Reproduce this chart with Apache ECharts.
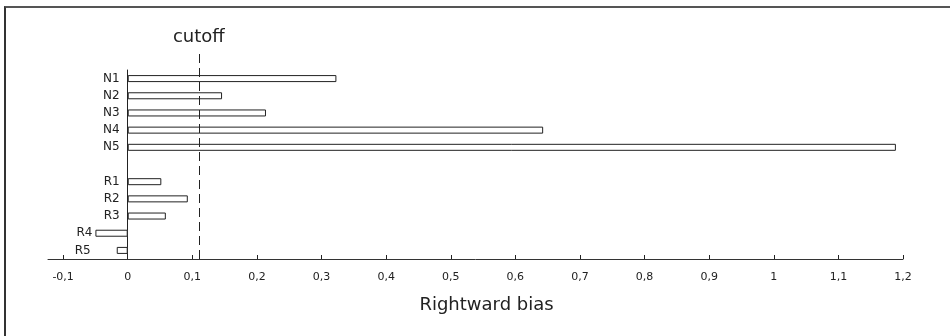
<!DOCTYPE html>
<html>
<head>
<meta charset="utf-8">
<script src="https://cdn.jsdelivr.net/npm/echarts@6/dist/echarts.min.js"></script>
<style>
  html, body { margin: 0; padding: 0; background: #fff; overflow: hidden; width: 950px; height: 336px; }
  #frame { position: absolute; left: 4px; top: 6px; width: 944px; height: 328px;
           border-top: 2px solid #555; border-left: 2px solid #333; }
  #chart { position: absolute; left: 0; top: 0; width: 950px; height: 336px; }
</style>
</head>
<body>
<div id="frame"></div>
<div id="chart"></div>
<script>
// categories top to bottom, '' is the gap between the two groups
var categories = ['N1', 'N2', 'N3', 'N4', 'N5', '', 'R1', 'R2', 'R3', 'R4', 'R5'];
var bias = [0.323, 0.146, 0.214, 0.643, 1.189, '-', 0.052, 0.093, 0.059, -0.05, -0.017];
var tickValues = [-0.1, 0, 0.1, 0.2, 0.3, 0.4, 0.5, 0.6, 0.7, 0.8, 0.9, 1, 1.1, 1.2];
var cutoff = 0.109;

var font = 'DejaVu Sans';
var ink = '#222';

function fmt(v) {
  return String(+(+v).toFixed(1)).replace('.', ',');
}

// label gap from the left end of each bar (the source places R4/R5 by hand)
var labelGap = { R4: 3, R5: 26 };

var barData = bias.map(function (v, i) {
  var name = categories[i];
  return {
    value: v,
    label: { distance: labelGap[name] != null ? labelGap[name] : 8 }
  };
});

var chart = echarts.init(document.getElementById('chart'));

var option = {
  animation: false,
  textStyle: { fontFamily: font, color: ink },
  grid: [
    { left: 48, right: 47, top: 70, bottom: 77, containLabel: false, outerBoundsMode: 'none' },
    { left: 48, right: 47, top: 53, bottom: 77, containLabel: false, outerBoundsMode: 'none' }
  ],
  xAxis: [{
    type: 'value',
    gridIndex: 0,
    min: -0.1234,
    max: 1.2,
    axisLine: { show: true, onZero: false, lineStyle: { color: '#333', width: 1 } },
    axisTick: { show: true, inside: true, length: 4, customValues: tickValues,
                lineStyle: { color: '#222', width: 1 } },
    axisLabel: { customValues: tickValues, formatter: fmt, margin: 13,
                 fontSize: 11, fontFamily: font, color: ink },
    splitLine: { show: false },
    name: 'Rightward bias',
    nameLocation: 'middle',
    nameGap: 37,
    nameTextStyle: { fontSize: 18, fontFamily: font, color: ink, padding: [0, 0, 0, 22] }
  }, {
    type: 'value',
    gridIndex: 1,
    min: -0.1234,
    max: 1.2,
    show: false
  }],
  yAxis: [{
    type: 'category',
    gridIndex: 0,
    inverse: true,
    data: categories,
    axisLine: { show: true, onZero: true, lineStyle: { color: '#222', width: 1 } },
    axisTick: { show: false },
    axisLabel: { show: false }
  }, {
    type: 'value',
    gridIndex: 1,
    min: 0,
    max: 1,
    show: false
  }],
  series: [{
    type: 'bar',
    xAxisIndex: 0,
    yAxisIndex: 0,
    data: barData,
    barWidth: 7,
    itemStyle: { color: '#fff', borderColor: '#222', borderWidth: 1 },
    label: { show: true, position: 'left', formatter: '{b}',
             fontSize: 12, fontFamily: font, color: ink },
    silent: true
  }, {
    type: 'line',
    xAxisIndex: 1,
    yAxisIndex: 1,
    data: [],
    silent: true,
    markLine: {
      silent: true,
      symbol: 'none',
      lineStyle: { color: '#222', width: 1, type: [9, 5] },
      label: { show: true, position: 'end', formatter: 'cutoff', distance: 7,
               fontSize: 18, fontFamily: font, color: ink },
      data: [{ xAxis: cutoff }]
    }
  }]
};

chart.setOption(option);
</script>
</body>
</html>
